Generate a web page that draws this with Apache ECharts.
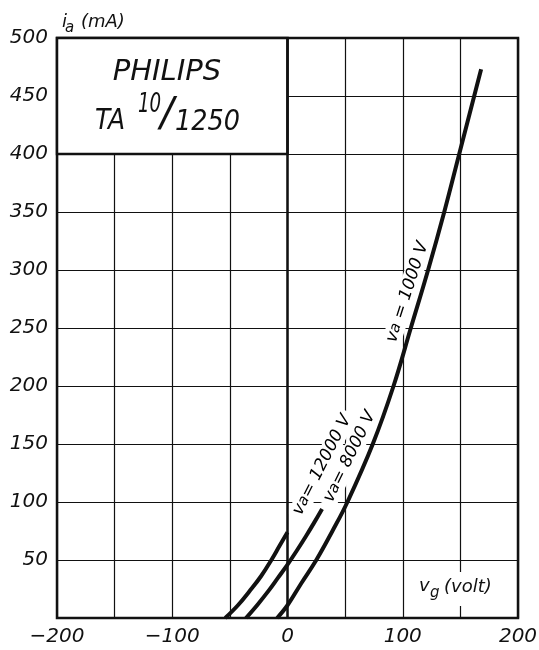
<!DOCTYPE html>
<html>
<head>
<meta charset="utf-8">
<script src="https://cdn.jsdelivr.net/npm/echarts@6/dist/echarts.min.js"></script>
<style>
html, body { margin: 0; padding: 0; background: #fff; }
#chart { width: 539px; height: 650px; }
</style>
</head>
<body>
<div id="chart"></div>
<script>
// characteristic curves ia = f(vg), read from the sheet
var curveA = [[-54, 0], [-43, 11], [-33, 23], [-23, 36], [-14, 50], [-7, 62], [0, 74]];
var curveB = [[-36, 0], [-26, 11.5], [-16, 24], [-8, 35], [0, 46], [8, 58], [16, 70.5], [23, 82], [30, 94]];
var curveC = [[-9, 0], [0, 11], [12, 30], [25, 50], [39, 75], [52, 100], [74, 150], [92, 200], [107, 250],
              [122, 300], [136, 350], [149, 400], [162, 450], [168, 473]];
// axis ticks
var xLabelTicks = [-200, -100, 0, 100, 200];
// curve annotations (anchor in data units)
var curveLabelText = ['v{s|a}= 12000 V', 'v{s|a}= 8000 V', 'v{s|a} = 1000 V'];
var curveLabelPos = [[30, 132], [54, 139], [104, 281]];
var curveLabelAngle = [63, 64, 72];

var INK = '#111';
var FONT = 'DejaVu Sans';

var myChart = echarts.init(document.getElementById('chart'));

function curve(data) {
    return {
        type: 'line',
        data: data,
        smooth: 0.4,
        showSymbol: false,
        symbol: 'none',
        z: 5,
        lineStyle: { color: INK, width: 4, cap: 'butt' }
    };
}

var labelData = curveLabelPos.map(function (p, i) {
    return {
        value: p,
        label: { formatter: curveLabelText[i], rotate: curveLabelAngle[i] }
    };
});

function txt(x, y, s, size, align, sx) {
    return {
        type: 'text', x: x, y: y, z: 100, scaleX: sx || 1,
        style: { text: s, font: 'italic ' + size + 'px ' + FONT, fill: INK, align: align || 'left', verticalAlign: 'middle' }
    };
}

myChart.setOption({
    animation: false,
    backgroundColor: '#fff',
    grid: {
        left: 57, right: 21, top: 38, bottom: 32,
        show: true, borderColor: INK, borderWidth: 2.5,
        outerBoundsMode: 'none'
    },
    xAxis: {
        type: 'value',
        min: -200, max: 200, interval: 50,
        axisLine: { show: false },
        axisTick: { show: false },
        splitLine: { show: true, lineStyle: { color: INK, width: 1.2 } },
        axisLabel: {
            margin: 9,
            color: INK,
            fontFamily: FONT, fontStyle: 'italic', fontSize: 20,
            formatter: function (v) {
                if (xLabelTicks.indexOf(v) < 0) return '';
                return v < 0 ? '\u2212' + (-v) : String(v);
            }
        }
    },
    yAxis: {
        type: 'value',
        min: 0, max: 500, interval: 50,
        axisLine: { show: false },
        axisTick: { show: false },
        splitLine: { show: true, lineStyle: { color: INK, width: 1.2 } },
        axisLabel: {
            margin: 9,
            color: INK,
            fontFamily: FONT, fontStyle: 'italic', fontSize: 20,
            formatter: function (v) { return v === 0 ? '' : String(v); }
        }
    },
    series: [
        {
            // title box and the vg = 0 line
            type: 'line',
            data: [],
            z: 2,
            markArea: {
                silent: true,
                itemStyle: { color: '#fff', borderColor: INK, borderWidth: 2.5 },
                data: [[{ coord: [-200, 500] }, { coord: [0, 400] }]]
            },
            markLine: {
                silent: true,
                symbol: 'none',
                label: { show: false },
                lineStyle: { color: INK, width: 2.5, type: 'solid' },
                data: [{ xAxis: 0 }]
            }
        },
        curve(curveA),
        curve(curveB),
        curve(curveC),
        {
            type: 'scatter',
            symbolSize: 0,
            z: 3,
            itemStyle: { opacity: 1 },
            data: labelData,
            label: {
                show: true,
                position: 'inside',
                color: '#000',
                opacity: 1,
                fontFamily: FONT, fontStyle: 'italic', fontSize: 17,
                backgroundColor: '#fff',
                padding: [1, 4],
                rich: {
                    s: { fontFamily: FONT, fontStyle: 'italic', fontSize: 15, color: '#000' }
                }
            }
        }
    ],
    graphic: [
        // y axis name  ia (mA)
        txt(62, 22, 'i', 18),
        txt(65, 28, 'a', 15),
        txt(81, 22, '(mA)', 18),
        // x axis name  vg (volt)
        { type: 'rect', z: 99, shape: { x: 414, y: 572, width: 84, height: 34 }, style: { fill: '#fff' } },
        txt(419, 586, 'v', 18),
        txt(430, 593, 'g', 15),
        txt(444, 587, '(volt)', 18),
        // type plate
        txt(167, 72, 'PHILIPS', 29, 'center'),
        txt(95, 121, 'TA', 29, 'left', 0.86),
        txt(138, 105, '10', 26, 'left', 0.7),
        txt(167, 116, '/', 40, 'center'),
        txt(175, 122, '1250', 29, 'left', 0.88)
    ]
});
</script>
</body>
</html>
